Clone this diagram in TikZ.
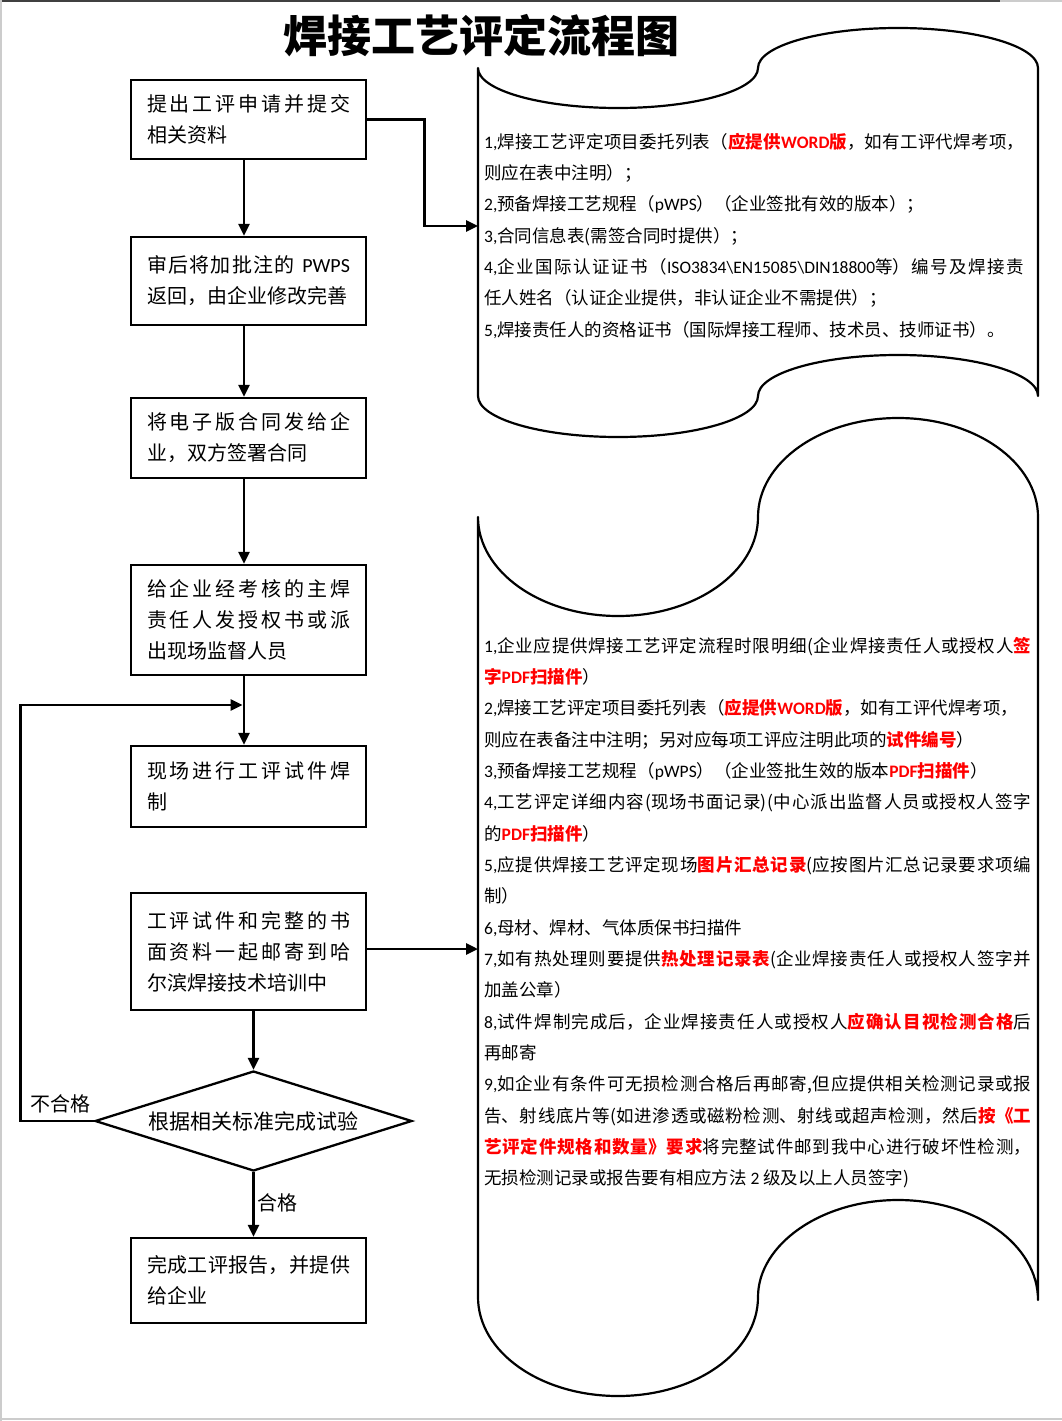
\documentclass[tikz,border=0pt]{standalone}
\usepackage{fontspec}
\setmainfont{Noto Sans CJK SC}
\newfontfamily\latin{Carlito}
\usetikzlibrary{shapes.geometric,arrows.meta}
\XeTeXlinebreaklocale "zh"
\XeTeXlinebreakskip=0pt plus 1pt
\hbadness=10000
\newcommand\lat[1]{{\latin #1}}
\newcommand\hl[1]{{\color{red}\bfseries #1}}
\definecolor{pagegray}{gray}{0.8}
\begin{document}
\begin{tikzpicture}[x=1pt,y=-1pt,
  flowbox/.style={draw, line width=2.3pt, minimum width=235pt, inner sep=0pt, font=\fontsize{20}{31}\selectfont},
  decide/.style={draw, diamond, shape aspect=3.2, line width=2.3pt, minimum width=317pt, minimum height=100pt, inner sep=0pt, font=\fontsize{21}{25}\selectfont},
  flow/.style={line width=2.8pt, -{Triangle[length=12pt,width=11pt]}},
  tape/.style={line width=2.2pt, line join=round},
  lbl/.style={inner sep=0pt, font=\fontsize{20}{24}\selectfont},
  note/.style={inner sep=0pt, anchor=base west, font=\fontsize{17.5}{31.35}\selectfont}
]
\useasboundingbox (0,0) rectangle (1062,1421);
% page edges
\draw[black!75, line width=2pt] (0,1) -- (1000,1);
\draw[pagegray, line width=1.5pt] (1000,1) -- (1062,1);
\draw[pagegray, line width=1.5pt] (1,0) -- (1,1421);
\draw[pagegray, line width=2pt] (0,1419) -- (1062,1419);

% title
\node[inner sep=0pt, font=\fontsize{44}{50}\selectfont\bfseries] (title) at (481.5,36) {焊接工艺评定流程图};

% document (punched tape) shapes
\draw[tape] (478,68) .. controls (478,90.1) and (540.7,108) .. (618,108)
  .. controls (695.3,108) and (758,90.1) .. (758,68)
  .. controls (758,45.9) and (820.7,28) .. (898,28)
  .. controls (975.3,28) and (1038,45.9) .. (1038,68)
  -- (1038,396)
  .. controls (1038,373.4) and (975.3,355) .. (898,355)
  .. controls (820.7,355) and (758,373.4) .. (758,396)
  .. controls (758,418.6) and (695.3,437) .. (618,437)
  .. controls (540.7,437) and (478,418.6) .. (478,396)
  -- cycle;
\draw[tape] (478,517) .. controls (478,571.7) and (540.7,616) .. (618,616)
  .. controls (695.3,616) and (758,571.7) .. (758,517)
  .. controls (758,462.3) and (820.7,418) .. (898,418)
  .. controls (975.3,418) and (1038,462.3) .. (1038,517)
  -- (1038,1300)
  .. controls (1038,1244.8) and (975.3,1200) .. (898,1200)
  .. controls (820.7,1200) and (758,1244.8) .. (758,1297)
  .. controls (758,1352.2) and (695.3,1396) .. (618,1396)
  .. controls (540.7,1396) and (478,1352.2) .. (478,1297)
  -- cycle;
\coordinate (in1) at (478,226);
\coordinate (in2) at (478,949);

% flow boxes
\node[flowbox, minimum height=79pt] (b1) at (248.5,119.5) {\parbox{203pt}{提出工评申请并提交\linebreak 相关资料}};
\node[flowbox, minimum height=88pt] (b2) at (248.5,281) {\parbox{203pt}{审后将加批注的 \lat{PWPS}\linebreak 返回，由企业修改完善}};
\node[flowbox, minimum height=80pt] (b3) at (248.5,438) {\parbox{203pt}{将电子版合同发给企\linebreak 业，双方签署合同}};
\node[flowbox, minimum height=110pt] (b4) at (248.5,620) {\parbox{203pt}{给企业经考核的主焊\linebreak 责任人发授权书或派\linebreak 出现场监督人员}};
\node[flowbox, minimum height=81pt] (b5) at (248.5,786.5) {\parbox{203pt}{现场进行工评试件焊\linebreak 制}};
\node[flowbox, minimum height=117pt] (b6) at (248.5,951.5) {\parbox{203pt}{工评试件和完整的书\linebreak 面资料一起邮寄到哈\linebreak 尔滨焊接技术培训中}};
\node[decide] (dm) at (253.5,1121) {根据相关标准完成试验};
\node[flowbox, minimum height=85pt] (b7) at (248.5,1280.5) {\parbox{203pt}{完成工评报告，并提供\linebreak 给企业}};

% connectors
\draw[flow] ([xshift=-4.5pt]b1.south) -- ([xshift=-4.5pt]b2.north);
\draw[flow] ([xshift=-4.5pt]b2.south) -- ([xshift=-4.5pt]b3.north);
\draw[flow] ([xshift=-4.5pt]b3.south) -- ([xshift=-4.5pt]b4.north);
\draw[flow] ([xshift=-4.5pt]b4.south) -- ([xshift=-4.5pt]b5.north);
\draw[flow] (b6.south -| dm.north) -- (dm.north);
\draw[flow] (dm.south) -- (dm.south |- b7.north);
\coordinate (join) at (242.6,705);
\draw[flow] (dm.west) -- ++(-73,0) |- (join);
\draw[flow] (b1.east) -- ++(57,0) |- (in1);
\draw[flow] (b6.east |- in2) -- (in2);

\node[lbl] (fail) at (60,1104) {不合格};
\node[lbl, anchor=west] (pass) at (257,1203) {合格};

% notes
\node[note] (t1) at (484,148) {\parbox[t]{540pt}{%
\lat{1,}焊接工艺评定项目委托列表（\hl{应提供\lat{WORD}版}，如有工评代焊考项，\linebreak
则应在表中注明）；\\%
\lat{2,}预备焊接工艺规程（\lat{pWPS}）（企业签批有效的版本）；\\%
\lat{3,}合同信息表(需签合同时提供）；\\%
\lat{4,}企业国际认证证书（\lat{ISO3834\textbackslash EN15085\textbackslash DIN18800}等）编号及焊接责\linebreak
任人姓名（认证企业提供，非认证企业不需提供）；\\%
\lat{5,}焊接责任人的资格证书（国际焊接工程师、技术员、技师证书）。}};

\node[note] (t2) at (484,652) {\parbox[t]{547pt}{%
\lat{1,}企业应提供焊接工艺评定流程时限明细(企业焊接责任人或授权人\hl{签}\linebreak
\hl{字\lat{PDF}扫描件}）\\%
\lat{2,}焊接工艺评定项目委托列表（\hl{应提供\lat{WORD}版}，如有工评代焊考项，\\%
则应在表备注中注明；另对应每项工评应注明此项的\hl{试件编号}）\\%
\lat{3,}预备焊接工艺规程（\lat{pWPS}）（企业签批生效的版本\hl{\lat{PDF}扫描件}）\\%
\lat{4,}工艺评定详细内容(现场书面记录)(中心派出监督人员或授权人签字\linebreak
的\hl{\lat{PDF}扫描件}）\\%
\lat{5,}应提供焊接工艺评定现场\hl{图片汇总记录}(应按图片汇总记录要求项编\linebreak
制）\\%
\lat{6,}母材、焊材、气体质保书扫描件\\%
\lat{7,}如有热处理则要提供\hl{热处理记录表}(企业焊接责任人或授权人签字并\linebreak
加盖公章）\\%
\lat{8,}试件焊制完成后，企业焊接责任人或授权人\hl{应确认目视检测合格}后\linebreak
再邮寄\\%
\lat{9,}如企业有条件可无损检测合格后再邮寄,但应提供相关检测记录或报\linebreak
告、射线底片等(如进渗透或磁粉检测、射线或超声检测，然后\hl{按《工}\linebreak
\hl{艺评定件规格和数量》要求}将完整试件邮到我中心进行破坏性检测，\linebreak
无损检测记录或报告要有相应方法 \lat{2} 级及以上人员签字)}};
\end{tikzpicture}
\end{document}
